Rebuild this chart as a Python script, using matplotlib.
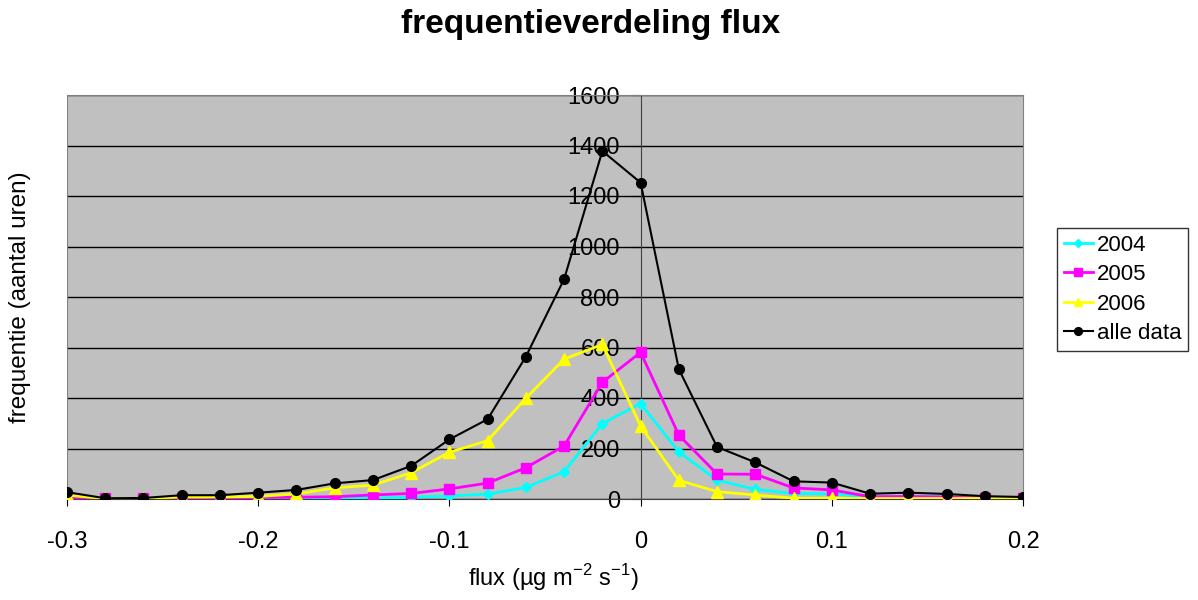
import numpy as np
import matplotlib.pyplot as plt

plt.rcParams['font.family'] = ['Liberation Sans', 'DejaVu Sans']
plt.rcParams['mathtext.fontset'] = 'custom'
plt.rcParams['mathtext.rm'] = 'Liberation Sans'

flux = np.round(np.arange(-0.30, 0.201, 0.02), 2)

jaar_2004 = [2, 1, 1, 1, 1, 2, 2, 2, 3, 7, 12, 19, 46, 108, 299, 378,
             186, 75, 38, 22, 20, 8, 10, 10, 5, 2]
jaar_2005 = [5, 2, 2, 5, 5, 6, 7, 9, 16, 22, 40, 63, 124, 210, 462, 581,
             253, 99, 98, 44, 36, 9, 10, 8, 4, 3]
jaar_2006 = [15, 2, 2, 8, 8, 10, 20, 44, 55, 104, 185, 231, 399, 554, 612, 289,
             74, 29, 16, 3, 3, 2, 2, 2, 2, 2]
alle_data = [27, 3, 4, 15, 15, 25, 36, 62, 75, 131, 236, 316, 564, 871, 1378, 1253,
             514, 206, 145, 70, 65, 21, 25, 20, 11, 8]

fig = plt.figure(figsize=(11.98, 6), dpi=100)
ax = fig.add_axes([67 / 1198, 1 - 499 / 600, (1023 - 67) / 1198, 404 / 600])
ax.set_facecolor('#c0c0c0')

ax.plot(flux, jaar_2004, color='#00ffff', marker='D', markersize=5, lw=2, label='2004', zorder=3)
ax.plot(flux, jaar_2005, color='#ff00ff', marker='s', markersize=6.5, lw=2, label='2005', zorder=3)
ax.plot(flux, jaar_2006, color='#ffff00', marker='^', markersize=8, lw=2, label='2006', zorder=3)
ax.plot(flux, alle_data, color='black', marker='o', markersize=7, lw=1.5, label='alle data', zorder=4)

ax.set_xlim(-0.3, 0.2)
ax.set_ylim(0, 1600)
ax.set_xticks(np.arange(-0.3, 0.201, 0.1))
ax.set_xticklabels(['-0.3', '-0.2', '-0.1', '0', '0.1', '0.2'])
ax.set_yticks(np.arange(0, 1601, 200))
ax.yaxis.grid(True, color='black', lw=1)
ax.set_axisbelow(True)

# y-as ligt op flux = 0, rand van het plotvlak in grijs
ax.spines['left'].set_position(('data', 0))
ax.spines['left'].set_color('#404040')
ax.spines['left'].set_zorder(2)
ax.spines['bottom'].set_color('#404040')
for s in ['top', 'right']:
    ax.spines[s].set_color('#808080')
ax.axvline(-0.3, color='#808080', lw=1.5)

ax.tick_params(axis='y', direction='out', length=7, labelsize=17, pad=8)
ax.tick_params(axis='x', direction='out', length=5, labelsize=17, pad=18)

fig.text(591 / 1198, 1 - 25 / 600, 'frequentieverdeling flux', ha='center', va='center',
         fontsize=24, fontweight='bold')
fig.text(20 / 1198, 1 - 297 / 600, 'frequentie (aantal uren)', rotation=90, ha='center',
         va='center', fontsize=17.5)
fig.text(553 / 1198, 1 - 578 / 600, r'flux (µg m$^{\mathregular{-2}}$ s$^{\mathregular{-1}}$)',
         ha='center', va='center', fontsize=17)

leg = ax.legend(loc='upper left', bbox_to_anchor=(1057 / 1198, 1 - 228 / 600),
                bbox_transform=fig.transFigure, borderaxespad=0,
                fontsize=16, frameon=True, fancybox=False, edgecolor='black',
                borderpad=0.3, labelspacing=0.38, handlelength=1.3, handletextpad=0.2,
                markerscale=0.8)
leg.get_frame().set_linewidth(1)

fig.savefig('out.png', dpi=100)
